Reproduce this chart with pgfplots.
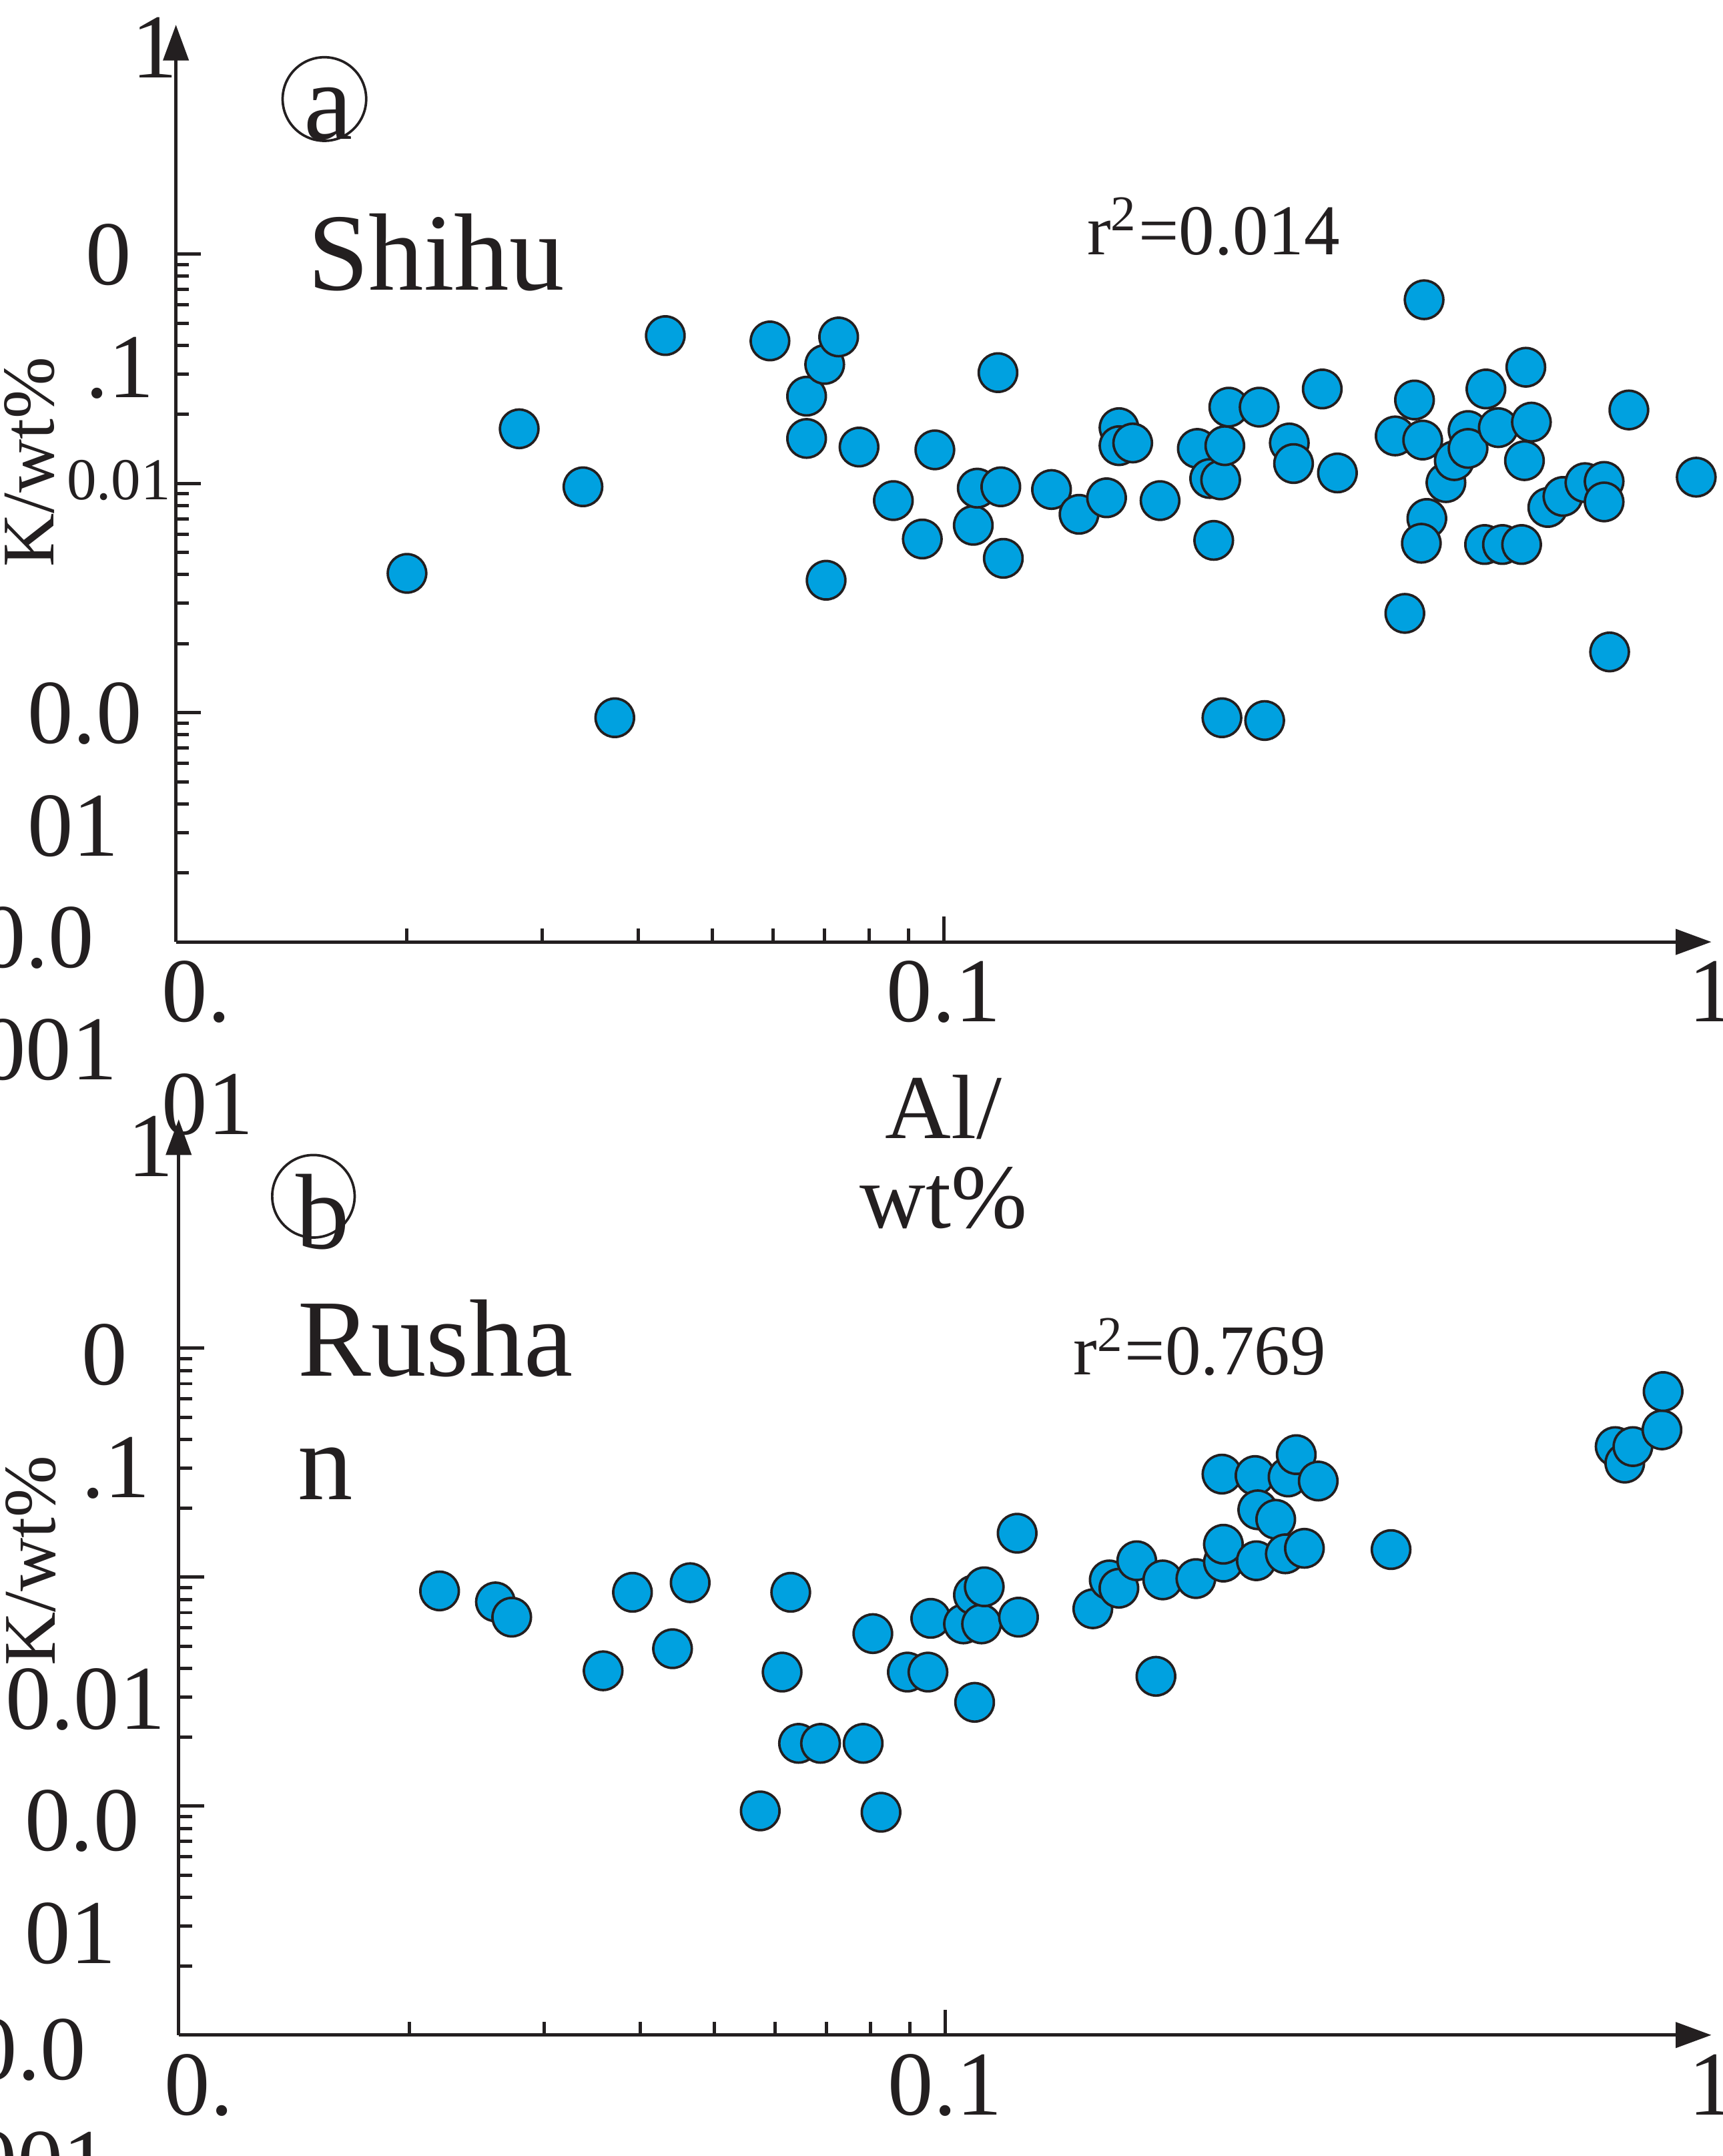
\documentclass[border=0pt]{standalone}
\usepackage{fontspec}
\setmainfont{Liberation Serif}
\usepackage{pgfplots}
\pgfplotsset{compat=1.18}
\usetikzlibrary{arrows.meta}

\definecolor{ptblue}{RGB}{0,161,224}
\definecolor{ink}{RGB}{35,31,32}

% tick label: raise, gap to axis, lines
\newcommand{\tklab}[3]{\raisebox{#1}{\begin{tabular}[t]{@{}l@{}}#3\end{tabular}}\hspace*{#2}}

\begin{document}
\begin{tikzpicture}
\useasboundingbox (0pt,0pt) rectangle (313.25pt,-392pt);

% (a) Shihu
\begin{axis}[
  xmode=log, ymode=log,
  scale only axis,
  at={(32pt,-171.25pt)}, anchor=south west,
  width=279.25pt, height=166.75pt,
  axis lines=left,
  axis line style={line width=0.6pt, draw=ink, -{Triangle[length=6.5pt,width=4.6pt]}},
  tick align=inside,
  major tick length=4.6pt,
  minor tick length=2.4pt,
  tick style={line width=0.6pt, draw=ink},
  xmin=0.01, xmax=1, ymin=1e-4, ymax=1,
  xtick={0.01,0.1},
  ytick={1e-4,1e-3,1e-2,1e-1},
  extra x ticks={1}, extra y ticks={1},
  extra tick style={major tick length=0pt},
  tick label style={font=\fontsize{16.6}{20.5}\selectfont, inner sep=0pt, text=ink},
  yticklabel style={anchor=base east, yshift=-5.6pt},
  xticklabel style={anchor=base, yshift=-14.5pt},
  xticklabels={{\hspace*{11.5pt}\begin{tabular}[t]{@{}l@{}}0.\\01\end{tabular}},0.1},
  extra x tick labels={1},
  yticklabels={
    {\tklab{1pt}{10.5pt}{0.0\\001}},
    {\tklab{0pt}{6pt}{0.0\\01}},
    {\tklab{2.7pt}{0.75pt}{\fontsize{10.8}{12}\selectfont 0.01}},
    {\tklab{0pt}{3.75pt}{0\\.1}}},
  extra y tick labels={{\tklab{-4pt}{-0.5pt}{1}}},
  xlabel={\begin{tabular}[t]{@{}c@{}}Al/\\wt\%\end{tabular}},
  xlabel style={at={(axis description cs:0.5,0)}, anchor=base, yshift=-35.75pt,
    inner sep=0pt, text=ink, font=\fontsize{16.6}{16.25}\selectfont},
  ylabel={K/wt\%},
  ylabel style={at={(axis description cs:-0.0797,0.5232)}, anchor=base,
    inner sep=0pt, text=ink, font=\fontsize{13.5}{15}\selectfont},
  clip=false,
]
\addplot[only marks, mark=*, mark size=3.5pt,
  mark options={fill=ptblue, draw=ink, line width=0.45pt}] coordinates {
(0.0200,0.00405) (0.0280,0.0173) (0.0339,0.00966) (0.0373,0.00095)
(0.0434,0.0441) (0.0594,0.0418) (0.0663,0.0240) (0.0700,0.0330)
(0.0730,0.0435) (0.0663,0.0157) (0.0703,0.00378) (0.0776,0.0144)
(0.0860,0.00841) (0.0938,0.00572) (0.0974,0.0140) (0.1093,0.00656)
(0.1106,0.00953) (0.1187,0.00966) (0.1177,0.0304) (0.1196,0.00471)
(0.1382,0.00940) (0.1501,0.00733) (0.1630,0.00865) (0.1692,0.0175)
(0.1692,0.0146) (0.1763,0.0150) (0.1914,0.00841) (0.2140,0.0142)
(0.2221,0.0105) (0.2248,0.00564) (0.2295,0.01035) (0.2304,0.00095)
(0.2324,0.0146) (0.2352,0.0215) (0.2576,0.0215) (0.2619,0.000924)
(0.2820,0.0150) (0.2856,0.0122) (0.3113,0.0258) (0.3258,0.0111)
(0.3874,0.0161) (0.3988,0.00271) (0.4105,0.0231) (0.4225,0.0632)
(0.4207,0.01545) (0.4260,0.00703) (0.4190,0.00548) (0.4511,0.01007)
(0.4625,0.01256) (0.4820,0.0170) (0.4820,0.0142) (0.5065,0.00541)
(0.5086,0.0258) (0.5278,0.0175) (0.5344,0.00541) (0.5660,0.00541)
(0.5733,0.0321) (0.5709,0.01256) (0.5829,0.0185) (0.6123,0.00785)
(0.6407,0.00877) (0.6844,0.01007) (0.7250,0.0102) (0.7250,0.0083)
(0.7371,0.00184) (0.7809,0.0209) (0.9556,0.01064)
};
\end{axis}

% (b) Rushan
\begin{axis}[
  xmode=log, ymode=log,
  scale only axis,
  at={(32.5pt,-370pt)}, anchor=south west,
  width=278.75pt, height=166.5pt,
  axis lines=left,
  axis line style={line width=0.6pt, draw=ink, -{Triangle[length=6.5pt,width=4.6pt]}},
  tick align=inside,
  major tick length=4.6pt,
  minor tick length=2.4pt,
  tick style={line width=0.6pt, draw=ink},
  xmin=0.01, xmax=1, ymin=1e-4, ymax=1,
  xtick={0.01,0.1},
  ytick={1e-4,1e-3,1e-2,1e-1},
  extra x ticks={1}, extra y ticks={1},
  extra tick style={major tick length=0pt},
  tick label style={font=\fontsize{16.6}{20.5}\selectfont, inner sep=0pt, text=ink},
  yticklabel style={anchor=base east, yshift=-5.6pt},
  xticklabel style={anchor=base, yshift=-14.5pt},
  xticklabels={{\hspace*{11.5pt}\begin{tabular}[t]{@{}l@{}}0.\\01\end{tabular}},0.1},
  extra x tick labels={1},
  yticklabels={
    {\tklab{-2.5pt}{12.5pt}{0.0\\001}},
    {\tklab{-2.5pt}{7pt}{0.0\\01}},
    {\tklab{-22pt}{2.25pt}{0.01}},
    {\tklab{-1pt}{5pt}{0\\.1}}},
  extra y tick labels={{\tklab{-4.75pt}{0.75pt}{1}}},
  xlabel={\begin{tabular}[t]{@{}c@{}}Al/\\wt\%\end{tabular}},
  xlabel style={at={(axis description cs:0.5,0)}, anchor=base, yshift=-35.75pt,
    inner sep=0pt, text=ink, font=\fontsize{16.6}{16.25}\selectfont},
  ylabel={K/wt\%},
  ylabel style={at={(axis description cs:-0.0807,0.518)}, anchor=base,
    inner sep=0pt, text=ink, font=\fontsize{13.5}{15}\selectfont},
  clip=false,
]
\addplot[only marks, mark=*, mark size=3.5pt,
  mark options={fill=ptblue, draw=ink, line width=0.45pt}] coordinates {
(0.0219,0.00871) (0.0259,0.0078) (0.0272,0.00669) (0.0358,0.0039)
(0.0391,0.00859) (0.0441,0.00487) (0.0465,0.00946) (0.0574,0.000953)
(0.0613,0.00385) (0.0629,0.00859) (0.0644,0.00188) (0.0688,0.00188)
(0.0782,0.00188) (0.0805,0.00567) (0.0825,0.00094) (0.0893,0.00385)
(0.0950,0.00385) (0.0958,0.00661) (0.1057,0.00625) (0.1093,0.00284)
(0.1089,0.00836) (0.1116,0.00625) (0.1125,0.00908) (0.1242,0.01556)
(0.1247,0.00669) (0.1559,0.00728) (0.1638,0.00973) (0.1686,0.00895)
(0.1779,0.0118) (0.1885,0.00369) (0.1924,0.00973) (0.2125,0.00986)
(0.2298,0.0282) (0.2308,0.01164) (0.2308,0.01393) (0.2538,0.0278)
(0.2548,0.0118) (0.2559,0.0197) (0.2701,0.0179) (0.2803,0.0274)
(0.2780,0.01265) (0.2873,0.0343) (0.2944,0.01337) (0.3069,0.0263)
(0.3820,0.0132) (0.7490,0.0372) (0.7710,0.0315) (0.7900,0.0372)
(0.8620,0.0440) (0.8650,0.0647)
};
\end{axis}

% panel marks and notes
\draw[draw=ink, line width=0.45pt] (59pt,-18pt) circle[radius=7.6pt];
\node[anchor=base, inner sep=0pt, text=ink, font=\fontsize{20}{22}\selectfont] at (59.75pt,-25.25pt) {a};
\node[anchor=base west, inner sep=0pt, text=ink, font=\fontsize{20}{22}\selectfont] at (55.75pt,-52.75pt) {Shihu};
\node[anchor=base west, inner sep=0pt, text=ink, font=\fontsize{13}{15}\selectfont] at (197.5pt,-46.25pt) {r\textsuperscript{2}=0.014};

\draw[draw=ink, line width=0.45pt] (57pt,-217.5pt) circle[radius=7.5pt];
\node[anchor=base, inner sep=0pt, text=ink, font=\fontsize{19.5}{22}\selectfont] at (58.75pt,-227pt) {b};
\node[anchor=base west, inner sep=0pt, text=ink, font=\fontsize{20}{22}\selectfont] at (54pt,-250.2pt) {Rusha};
\node[anchor=base west, inner sep=0pt, text=ink, font=\fontsize{20}{22}\selectfont] at (54pt,-272.65pt) {n};
\node[anchor=base west, inner sep=0pt, text=ink, font=\fontsize{13}{15}\selectfont] at (195pt,-250pt) {r\textsuperscript{2}=0.769};
\end{tikzpicture}
\end{document}
